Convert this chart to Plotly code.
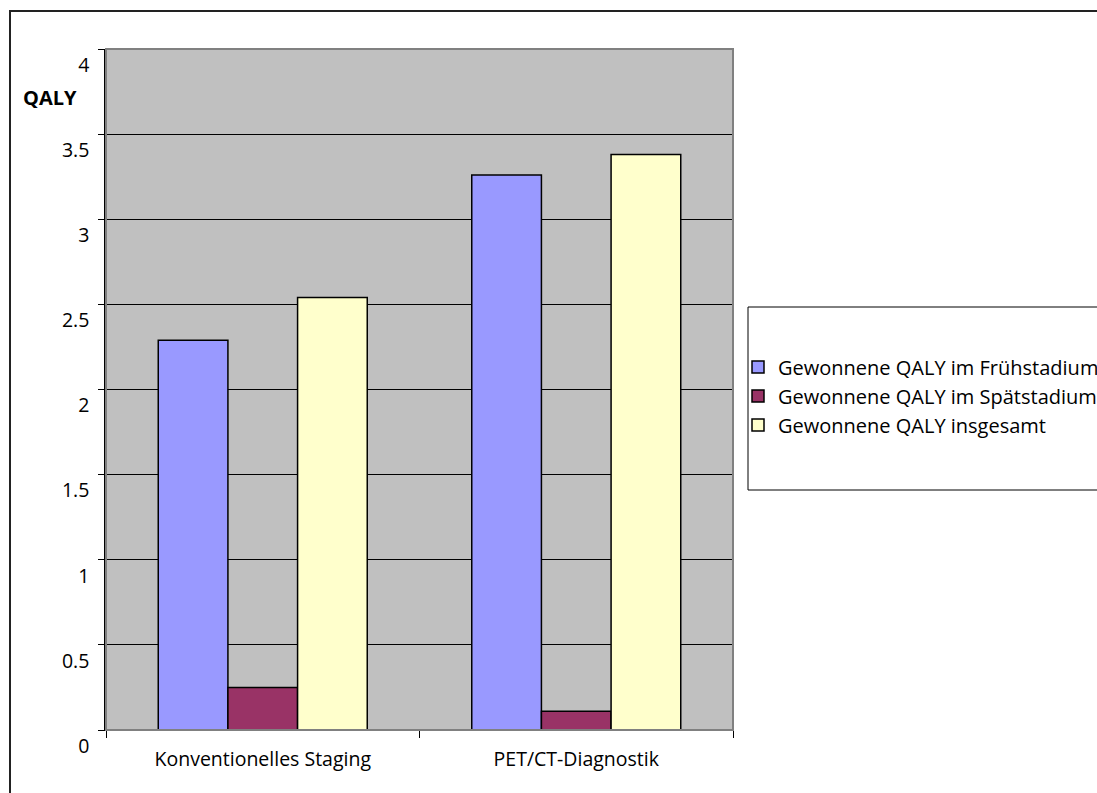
import plotly.graph_objects as go

# QALY gains per diagnostic strategy
categories = ["Konventionelles Staging", "PET/CT-Diagnostik"]
series_names = [
    "Gewonnene QALY im Frühstadium",
    "Gewonnene QALY im Spätstadium",
    "Gewonnene QALY insgesamt",
]
qaly_early = [2.29, 3.26]
qaly_late = [0.25, 0.11]
qaly_total = [2.54, 3.38]
y_ticks = [0, 0.5, 1, 1.5, 2, 2.5, 3, 3.5, 4]

colors = ["#9999FF", "#993366", "#FFFFCC"]

W, H = 1097, 793
L, R, T, B = 106, 364, 49, 63
PW, PH = W - L - R, H - T - B


def px_x(px):
    return (px - L) / PW


def px_y(py):
    return (H - B - py) / PH


FONT = "Open Sans, Noto Sans, sans-serif"

fig = go.Figure()
for i, (name, vals, col) in enumerate(zip(series_names, [qaly_early, qaly_late, qaly_total], colors)):
    fig.add_trace(go.Bar(
        name=name, x=categories, y=vals, legendgroup=f"g{i}",
        marker=dict(color=col, line=dict(color="#000000", width=1.5)),
    ))

fig.update_layout(
    width=W, height=H,
    margin=dict(l=L, r=R, t=T, b=B, autoexpand=False),
    paper_bgcolor="white",
    plot_bgcolor="#C0C0C0",
    barmode="group",
    bargap=1.5 / 4.5,
    bargroupgap=0,
    font=dict(family=FONT, size=19.5, color="#000000"),
    showlegend=True,
    legend=dict(
        x=px_x(738), y=px_y(396), xanchor="left", yanchor="middle",
        bgcolor="rgba(0,0,0,0)", borderwidth=0,
        font=dict(size=20, color="#000000"),
        traceorder="normal", tracegroupgap=4,
    ),
    xaxis=dict(
        showline=True, linecolor="#000000", linewidth=1,
        ticks="outside", tickson="boundaries", ticklen=7, tickcolor="#000000",
        showgrid=False, tickfont=dict(size=19.5), ticklabelstandoff=12,
    ),
    yaxis=dict(
        range=[0, 4], tickvals=y_ticks,
        showline=True, linecolor="#000000", linewidth=1.5,
        ticks="outside", ticklen=6, tickcolor="#000000",
        showgrid=True, gridcolor="#000000", gridwidth=1,
        zeroline=False, tickfont=dict(size=19.5),
        ticklabelshift=16, ticklabelstandoff=5,
    ),
    shapes=[
        # plot-area frame
        dict(type="rect", xref="paper", yref="paper", x0=0, x1=1, y0=0, y1=1,
             line=dict(color="#808080", width=2), layer="above"),
        # legend frame
        dict(type="rect", xref="paper", yref="paper",
             x0=px_x(748), x1=px_x(1105), y0=px_y(490), y1=px_y(307),
             line=dict(color="#000000", width=1)),
        # chart frame
        dict(type="rect", xref="paper", yref="paper",
             x0=px_x(10), x1=px_x(1110), y0=px_y(800), y1=px_y(11),
             line=dict(color="#222222", width=2)),
    ],
    annotations=[
        dict(text="<b>QALY</b>", xref="paper", yref="paper",
             x=px_x(50), y=px_y(97), xanchor="center", yanchor="middle",
             showarrow=False, font=dict(size=20, color="#000000")),
    ],
)

fig.write_html("out.html")
